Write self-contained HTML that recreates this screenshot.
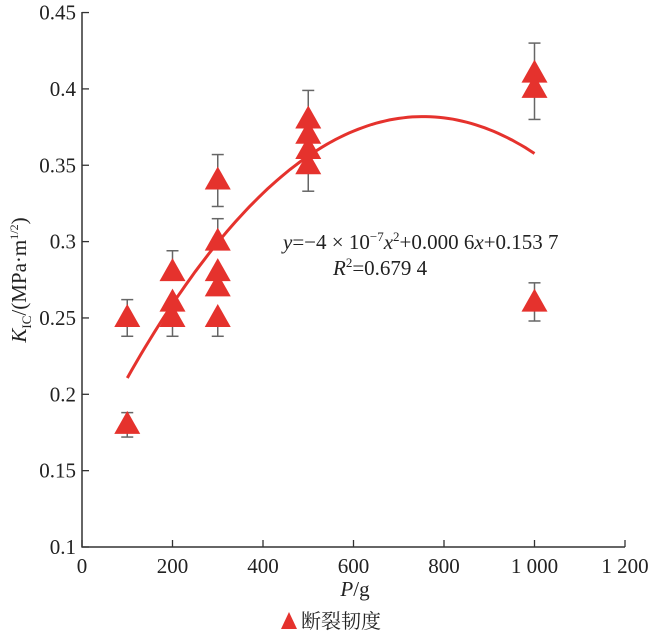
<!DOCTYPE html><html><head><meta charset="utf-8"><style>body{margin:0;background:#fff}svg{display:block}</style></head><body>
<svg id="s" width="650" height="634" xmlns="http://www.w3.org/2000/svg" font-family="'Liberation Serif', 'Times New Roman', serif" fill="#222"></svg>
<script>
const s=document.getElementById('s');let h='';
const X=v=>82+v*0.4525, Y=v=>547-(v-0.1)*1527;
h+='<line x1="82" y1="12" x2="82" y2="547.5" stroke="#333" stroke-width="1.5"/><line x1="81.5" y1="547" x2="625" y2="547" stroke="#333" stroke-width="1.5"/>';
[0.1,0.15,0.2,0.25,0.3,0.35,0.4,0.45].forEach(v=>{const y=Y(v);h+=`<line x1="82" y1="${y}" x2="89" y2="${y}" stroke="#333" stroke-width="1.3"/><text x="76" y="${y+7}" font-size="21" text-anchor="end">${v}</text>`});
[0,200,400,600,800,1000,1200].forEach(v=>{const x=X(v);h+=`<line x1="${x}" y1="547" x2="${x}" y2="540" stroke="#333" stroke-width="1.3"/><text x="${x}" y="573" font-size="21" text-anchor="middle">${v>=1000?(v/1000|0)+' '+String(v%1000).padStart(3,'0'):v}</text>`});
let p='';for(let x=100;x<=1000;x+=10){const y=-4e-7*x*x+0.0006*x+0.1537+0.001+0.003*(x-100)/900;p+=(x==100?'M':'L')+X(x).toFixed(1)+','+Y(y).toFixed(1)}
const pts=[[100,0.25,0.238,0.262],[100,0.18,0.172,0.188],[200,0.28,0.28,0.294],[200,0.26],[200,0.25,0.238,0.25],[300,0.34,0.323,0.357],[300,0.30,0.30,0.315],[300,0.28],[300,0.27],[300,0.25,0.238,0.25],[500,0.38,0.38,0.399],[500,0.37],[500,0.36],[500,0.35,0.333,0.35],[1000,0.41,0.41,0.43],[1000,0.40,0.38,0.40],[1000,0.26,0.248,0.273]];
pts.forEach(q=>{if(q[2]!==undefined){const x=X(q[0]);h+=`<g stroke="#666" stroke-width="1.5"><line x1="${x}" y1="${Y(q[2])}" x2="${x}" y2="${Y(q[3])}"/><line x1="${x-6}" y1="${Y(q[2])}" x2="${x+6}" y2="${Y(q[2])}"/><line x1="${x-6}" y1="${Y(q[3])}" x2="${x+6}" y2="${Y(q[3])}"/></g>`}});
h+=`<path d="${p}" fill="none" stroke="#e5322d" stroke-width="3"/>`;
pts.forEach(q=>{const x=X(q[0]),y=Y(q[1]);h+=`<polygon points="${x},${y-14} ${x-13},${y+9} ${x+13},${y+9}" fill="#e5322d"/>`});
h+=`<text x="283" y="249" font-size="21"><tspan font-style="italic">y</tspan>=−4 × 10<tspan font-size="13" dy="-8">−7</tspan><tspan dy="8" font-style="italic">x</tspan><tspan font-size="13" dy="-8">2</tspan><tspan dy="8">+0.000 6</tspan><tspan font-style="italic">x</tspan>+0.153 7</text>`;
h+=`<text x="333" y="275" font-size="21"><tspan font-style="italic">R</tspan><tspan font-size="13" dy="-8">2</tspan><tspan dy="8">=0.679 4</tspan></text>`;
h+=`<text x="355" y="596" font-size="21" text-anchor="middle"><tspan font-style="italic">P</tspan>/g</text>`;
h+=`<text transform="translate(26,280) rotate(-90)" font-size="21" text-anchor="middle"><tspan font-style="italic">K</tspan><tspan font-size="13" dy="5">IC</tspan><tspan dy="-5">/(MPa·m</tspan><tspan font-size="12" dy="-8">1/2</tspan><tspan dy="8">)</tspan></text>`;
h+=`<polygon points="289,612 281,629 297,629" fill="#e5322d"/><text x="301" y="628" font-size="20" font-family="'Noto Serif CJK SC','Noto Sans CJK SC',serif">断裂韧度</text>`;
s.innerHTML=h;
</script></body></html>
